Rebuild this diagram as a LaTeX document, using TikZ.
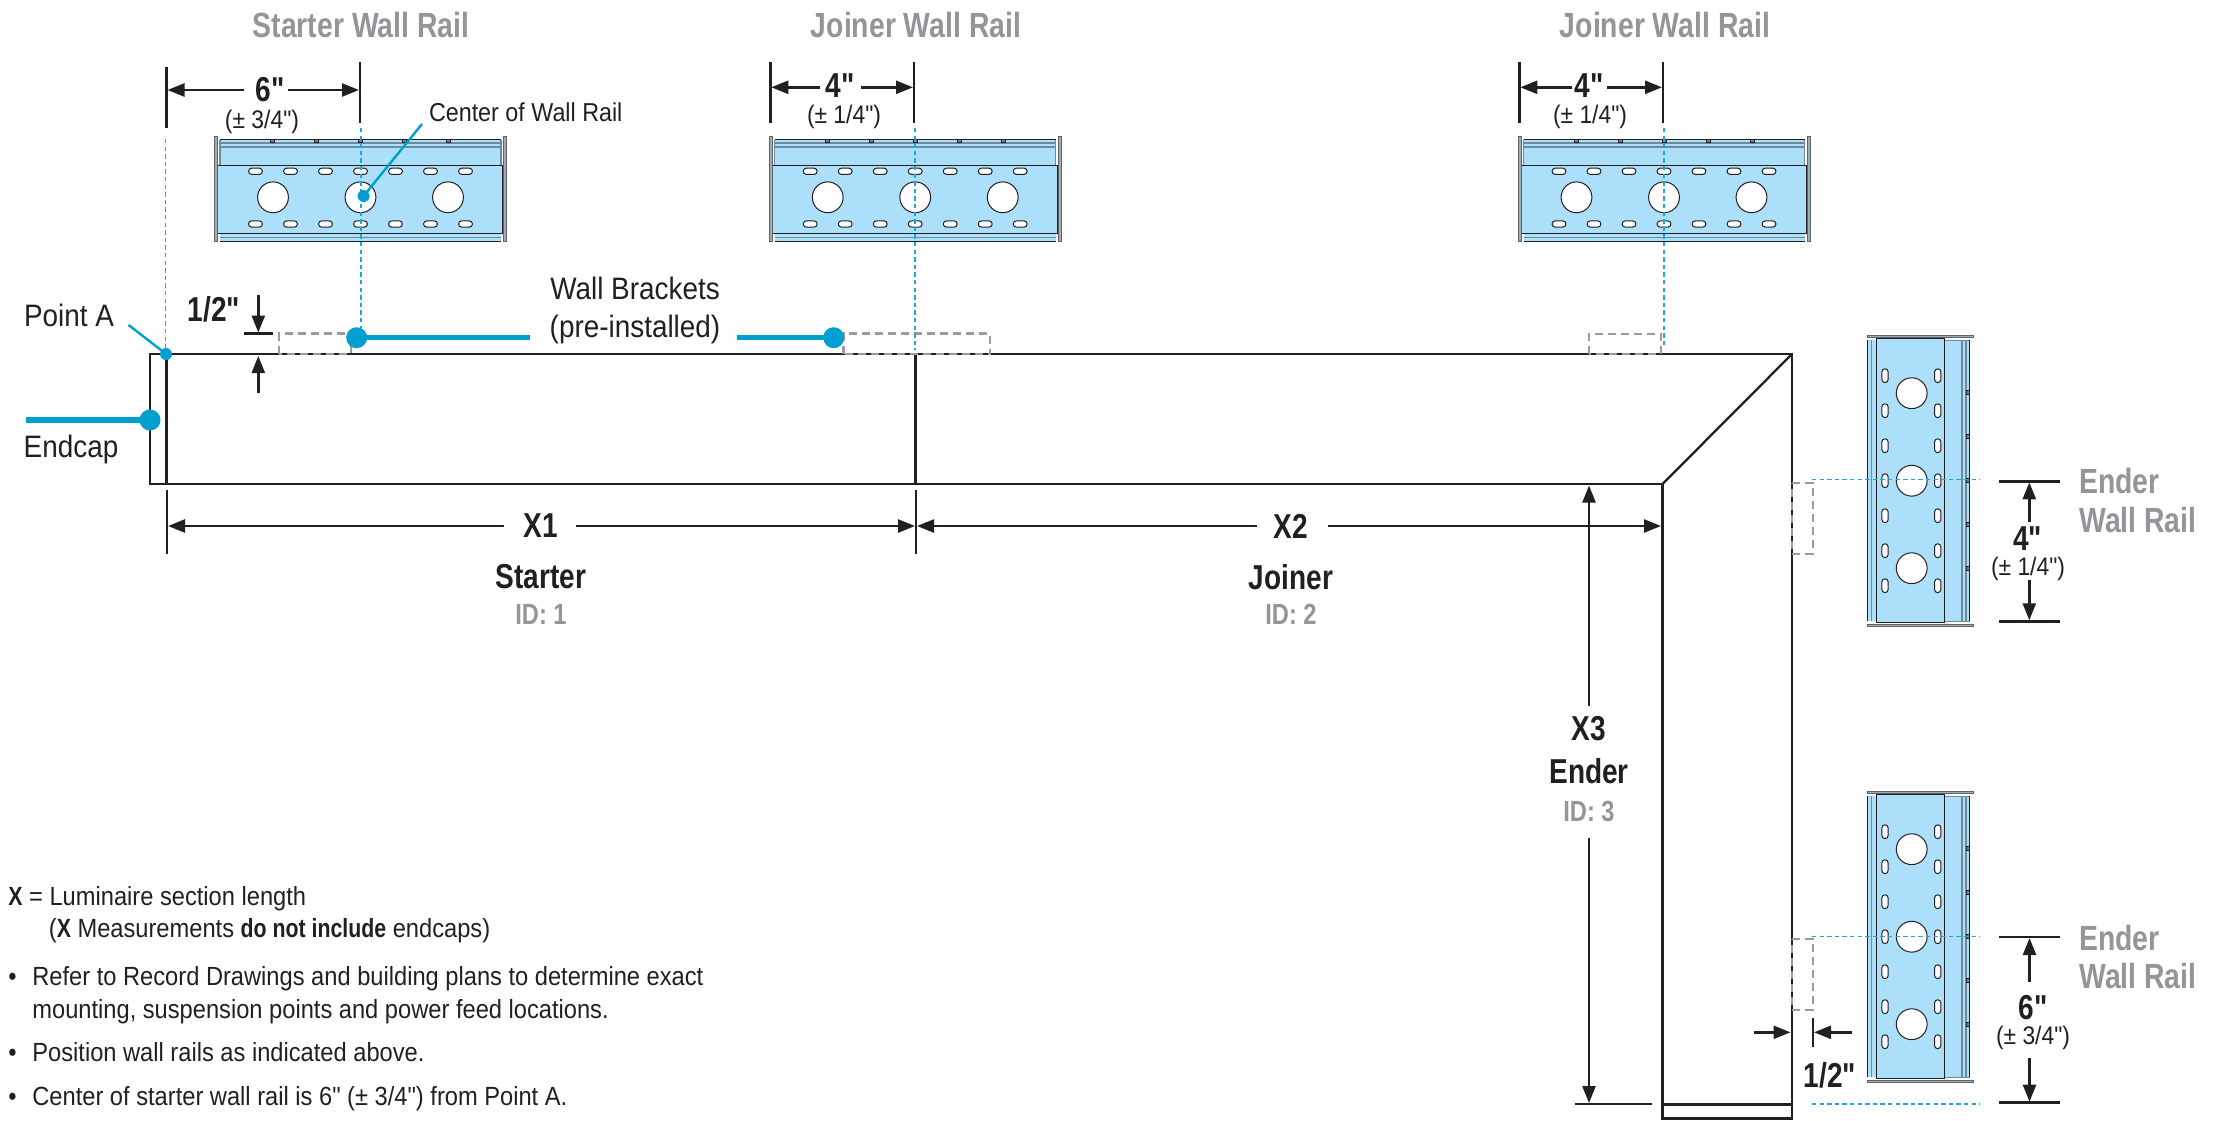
\documentclass[tikz,border=0pt]{standalone}
\usepackage{fontspec}
\usetikzlibrary{arrows.meta}
\setmainfont{Liberation Sans}
\newfontfamily\rg{Liberation Sans}[FakeStretch=0.9]
\newfontfamily\bd{Liberation Sans}[UprightFont=* Bold,FakeStretch=0.81]
\definecolor{ink}{HTML}{231F20}
\definecolor{railblue}{HTML}{ABDFFA}
\definecolor{railedge}{HTML}{6F8A9C}
\definecolor{accent}{HTML}{009FCF}
\definecolor{cyanline}{HTML}{1BA9DC}
\definecolor{graytext}{HTML}{939598}
\definecolor{graydash}{HTML}{9A9B9E}
\tikzset{
  px/.style={x=0.5pt,y=-0.5pt},
  main/.style={draw=ink,line width=1.15pt,line join=miter},
  dim/.style={draw=ink,line width=1.25pt,-{Triangle[length=8.5pt,width=6.5pt]}},
  tick/.style={draw=ink,line width=1.25pt},
  center/.style={draw=cyanline,line width=0.65pt,dash pattern=on 2.2pt off 1.6pt},
  bracket/.style={draw=graydash,line width=1.2pt,dash pattern=on 4pt off 2.5pt},
  lead/.style={draw=accent,line width=2.6pt},
  leadthin/.style={draw=accent,line width=1.2pt},
  dot/.style={circle,fill=accent,inner sep=0pt,minimum size=10.5pt},
  dotsmall/.style={circle,fill=accent,inner sep=0pt,minimum size=6pt},
  lab/.style={inner sep=0pt,text=ink,font=\rg\fontsize{15.5}{18}\selectfont},
  note/.style={inner sep=0pt,text=ink,anchor=base west,font=\rg\fontsize{13.15}{15}\selectfont},
  small/.style={inner sep=0pt,text=ink,font=\rg\fontsize{12.7}{15}\selectfont},
  big/.style={inner sep=0pt,text=ink,font=\bd\fontsize{17.3}{20}\selectfont},
  title/.style={inner sep=0pt,text=graytext,font=\bd\fontsize{17.5}{20}\selectfont},
  idtxt/.style={inner sep=0pt,text=graytext,font=\bd\fontsize{14.6}{17}\selectfont},
}
\newcommand\railbody{%
  \fill[railblue] (-140.5,-57.8) rectangle (140.5,44.4);
  \draw[railedge,line width=0.6pt] (-140.5,-54.3) -- (140.5,-54.3) (-140.5,-50.3) -- (140.5,-50.3) (-140.5,40) -- (140.5,40);
  \draw[railedge,line width=0.6pt] (-140.5,-57.8) -- (-140.5,-32) (140.5,-57.8) -- (140.5,-32);
  \draw[ink,line width=0.5pt] (-140.5,-57.8) -- (140.5,-57.8);
  \draw[ink,line width=0.7pt] (-140.5,44.4) -- (140.5,44.4);
  \draw[fill=railblue,draw=ink,line width=0.5pt] (-142.7,-32.3) rectangle (142.2,35.7);
  \draw[fill=railedge!70,draw=ink!70,line width=0.3pt] (-145.8,-61.3) rectangle (-143.2,44.4);
  \draw[fill=railedge!70,draw=ink!70,line width=0.3pt] (143.2,-61.3) rectangle (145.8,44.4);
  \foreach \u in {-88,-44,0,44,88}
    \draw[fill=railedge,draw=ink,line width=0.4pt] (\u-2,-57.6) rectangle (\u+2,-55);
  \foreach \u in {-87.5,0,87.5}
    \draw[fill=white,draw=ink,line width=0.5pt] (\u,0) circle (15.4);
  \foreach \u in {-105,-70,-35,0,35,70,105}
    \foreach \v in {-26,26.7}
      \draw[fill=white,draw=ink,line width=0.5pt,rounded corners=1.5pt] (\u-6.9,\v-3.1) rectangle (\u+6.9,\v+3.1);
}
\newcommand\railH[2]{\begin{scope}[shift={(#1,#2)}]\railbody\end{scope}}
\newcommand\railV[2]{\begin{scope}[shift={(#1,#2)}]\begin{scope}[x={(0,-0.5pt)},y={(-0.5pt,0)}]\railbody\end{scope}\end{scope}}
\begin{document}
\begin{tikzpicture}[px]
\useasboundingbox (0,0) rectangle (2226,1120);
% rails
\railH{360.5}{197.3}
\railH{915.2}{197.3}
\railH{1664}{197.3}
\railV{1911.7}{480.7}
\railV{1911.7}{936.7}
% luminaire
\coordinate (capTL) at (150,354);
\coordinate (capBL) at (150,484);
\coordinate (ptA) at (166.5,354);
\coordinate (ptAb) at (166.5,484);
\coordinate (jt) at (915.5,354);
\coordinate (jb) at (915.5,484);
\coordinate (outer) at (1792,354);
\coordinate (inner) at (1662.5,484);
\coordinate (endOL) at (1792,1104);
\coordinate (endIL) at (1662.5,1104);
\coordinate (botR) at (1792,1118.6);
\coordinate (botL) at (1662.5,1118.6);
\draw[main] (capBL) -- (capTL) -- (outer) -- (botR) -- (botL) -- (inner) -- cycle;
\draw[main] (ptA) -- (ptAb);
\draw[main] (jt) -- (jb);
\draw[main] (outer) -- (inner);
\draw[main,line width=1.5pt] (endIL) -- (endOL);
% brackets
\draw[bracket] (279,354) -- (279,333.5) -- (351,333.5) -- (351,354) -- cycle;
\draw[bracket] (843.5,354) -- (843.5,333.5) -- (990,333.5) -- (990,354) -- cycle;
\draw[bracket] (1589,354) -- (1589,334) -- (1661,334) -- (1661,354) -- cycle;
\draw[bracket] (1792,483) -- (1812.7,483) -- (1812.7,554) -- (1792,554) -- cycle;
\draw[bracket] (1792,939) -- (1812.7,939) -- (1812.7,1010) -- (1792,1010) -- cycle;
% centre lines
\draw[center] (165.7,139) -- (165.7,350);
\draw[center] (361,128) -- (361,328);
\draw[center] (915,128) -- (915,350);
\draw[center] (1664,128) -- (1664,346);
\draw[center] (1812,479.7) -- (1980,479.7);
\draw[center] (1812,936.3) -- (1980,936.3);
\draw[center] (1812,1104) -- (1980,1104);
% titles
\node[title] (t1) at (361,25) {Starter Wall Rail};
\node[title] (t2) at (916,25) {Joiner Wall Rail};
\node[title] (t3) at (1665,25) {Joiner Wall Rail};
\node[title,anchor=west] (t4a) at (2079,481) {Ender};
\node[title,anchor=west] (t4b) at (2079,520) {Wall Rail};
\node[title,anchor=west] (t5a) at (2079,938) {Ender};
\node[title,anchor=west] (t5b) at (2079,976) {Wall Rail};
% top dims
\coordinate (s1a) at (166.5,67); \coordinate (s1b) at (166.5,128);
\coordinate (s2a) at (360,62);   \coordinate (s2b) at (360,123);
\draw[tick] (s1a) -- (s1b); \draw[tick] (s2a) -- (s2b);
\node[big] (d6) at (270,90) {6"};
\node[small] (d6t) at (262,122) {(± 3/4")};
\draw[dim] (244,90) -- (167.5,90);
\draw[dim] (288,90) -- (359,90);
\coordinate (j1a) at (770.3,62); \coordinate (j1b) at (770.3,123);
\coordinate (j2a) at (914,62);   \coordinate (j2b) at (914,123);
\draw[tick] (j1a) -- (j1b); \draw[tick] (j2a) -- (j2b);
\node[big] (d4a) at (840,86) {4"};
\node[small] (d4at) at (844,117) {(± 1/4")};
\draw[dim] (820,87.3) -- (771.3,87.3);
\draw[dim] (861,87.3) -- (913,87.3);
\coordinate (k1a) at (1519.3,62); \coordinate (k1b) at (1519.3,123);
\coordinate (k2a) at (1663,62);   \coordinate (k2b) at (1663,123);
\draw[tick] (k1a) -- (k1b); \draw[tick] (k2a) -- (k2b);
\node[big] (d4b) at (1589,86) {4"};
\node[small] (d4bt) at (1590,117) {(± 1/4")};
\draw[dim] (1572,87.3) -- (1520.3,87.3);
\draw[dim] (1607,87.3) -- (1662,87.3);
% leaders
\node[lab,anchor=west,font=\rg\fontsize{12.95}{16}\selectfont] (cw) at (428.6,112) {Center of Wall Rail};
\coordinate (cwl) at (422,124);
\node[dotsmall] (cwd) at (363.6,196) {};
\draw[leadthin] (cwl) -- (cwd.center);
\node[lab] (pa) at (69,315) {Point A};
\coordinate (pal) at (128.6,325);
\node[dotsmall] (pad) at (166,354) {};
\draw[leadthin] (pal) -- (pad.center);
\node[lab] (ec) at (71,449) {Endcap};
\coordinate (ecl) at (26,420);
\node[dot] (ecd) at (150,420) {};
\draw[lead] (ecl) -- (ecd.center);
\node[lab] (wb1) at (635,288) {Wall Brackets};
\node[lab] (wb2) at (635,329) {(pre-installed)};
\coordinate (wl1) at (530,337.7);
\coordinate (wl2) at (736.7,337.7);
\node[dot] (wd1) at (356.7,337.7) {};
\node[dot] (wd2) at (833.7,337.7) {};
\draw[lead] (wl1) -- (wd1.center);
\draw[lead] (wl2) -- (wd2.center);
% 1/2 top
\node[big] (hh) at (214,309) {1/2"};
\coordinate (hta) at (243.8,333.3); \coordinate (htb) at (272.9,333.3);
\draw[tick] (hta) -- (htb);
\draw[dim] (258.3,295) -- (258.3,332.5);
\draw[dim] (258.3,392.7) -- (258.3,356);
% X dims
\coordinate (x0a) at (167,490); \coordinate (x0b) at (167,554);
\coordinate (x1a) at (916,490); \coordinate (x1b) at (916,554);
\draw[tick,line width=1.1pt] (x0a) -- (x0b);
\draw[tick,line width=1.1pt] (x1a) -- (x1b);
\node[big] (x1) at (541,526) {X1};
\node[big] (x2) at (1291,526) {X2};
\draw[dim] (504,526) -- (168,526);
\draw[dim] (576,526) -- (915,526);
\draw[dim] (1257,526) -- (917,526);
\draw[dim] (1328,526) -- (1661,526);
\node[big] (l1) at (541,577) {Starter};
\node[idtxt] (i1) at (541,614) {ID: 1};
\node[big] (l2) at (1291,577) {Joiner};
\node[idtxt] (i2) at (1291,614) {ID: 2};
% X3
\node[big] (x3) at (1589,729) {X3};
\node[big] (l3) at (1589,771) {Ender};
\node[idtxt] (i3) at (1589,811) {ID: 3};
\draw[dim] (1589,706) -- (1589,485.5);
\draw[dim] (1589,838) -- (1589,1103);
\coordinate (x3a) at (1575,1104); \coordinate (x3b) at (1652,1104);
\draw[tick] (x3a) -- (x3b);
% right 4"
\coordinate (r1a) at (1999,481.3); \coordinate (r1b) at (2060,481.3);
\coordinate (r2a) at (1999,621.3); \coordinate (r2b) at (2060,621.3);
\draw[tick] (r1a) -- (r1b); \draw[tick] (r2a) -- (r2b);
\node[big] (d4c) at (2027.7,539) {4"};
\node[small] (d4ct) at (2028,569) {(± 1/4")};
\draw[dim] (2029.3,521.7) -- (2029.3,482.3);
\draw[dim] (2029.3,580) -- (2029.3,620.3);
% right 6"
\coordinate (q1a) at (1999,937); \coordinate (q1b) at (2060,937);
\coordinate (q2a) at (1999,1102.7); \coordinate (q2b) at (2060,1102.7);
\draw[tick] (q1a) -- (q1b); \draw[tick] (q2a) -- (q2b);
\node[big] (d6b) at (2033,1008) {6"};
\node[small] (d6bt) at (2033,1038) {(± 3/4")};
\draw[dim] (2029.5,981.7) -- (2029.5,938);
\draw[dim] (2029.5,1058) -- (2029.5,1101.7);
% 1/2 right
\coordinate (ha) at (1812.8,1018); \coordinate (hb) at (1812.8,1047);
\draw[tick] (ha) -- (hb);
\draw[dim] (1753.7,1032.3) -- (1790.5,1032.3);
\draw[dim] (1851.5,1032.3) -- (1814,1032.3);
\node[big] (hh2) at (1830,1075) {1/2"};
% notes
\node[note] (n1) at (8,905) {{\bd X} = Luminaire section length};
\node[note] (n2) at (48.5,937) {({\bd X} Measurements {\bd do not include} endcaps)};
\node[note] (b1) at (8,985) {•};
\node[note] (n3) at (32,985) {Refer to Record Drawings and building plans to determine exact};
\node[note] (n4) at (32,1018) {mounting, suspension points and power feed locations.};
\node[note] (b2) at (8,1061) {•};
\node[note] (n5) at (32,1061) {Position wall rails as indicated above.};
\node[note] (b3) at (8,1105) {•};
\node[note] (n6) at (32,1105) {Center of starter wall rail is 6" (± 3/4") from Point A.};
\end{tikzpicture}
\end{document}
